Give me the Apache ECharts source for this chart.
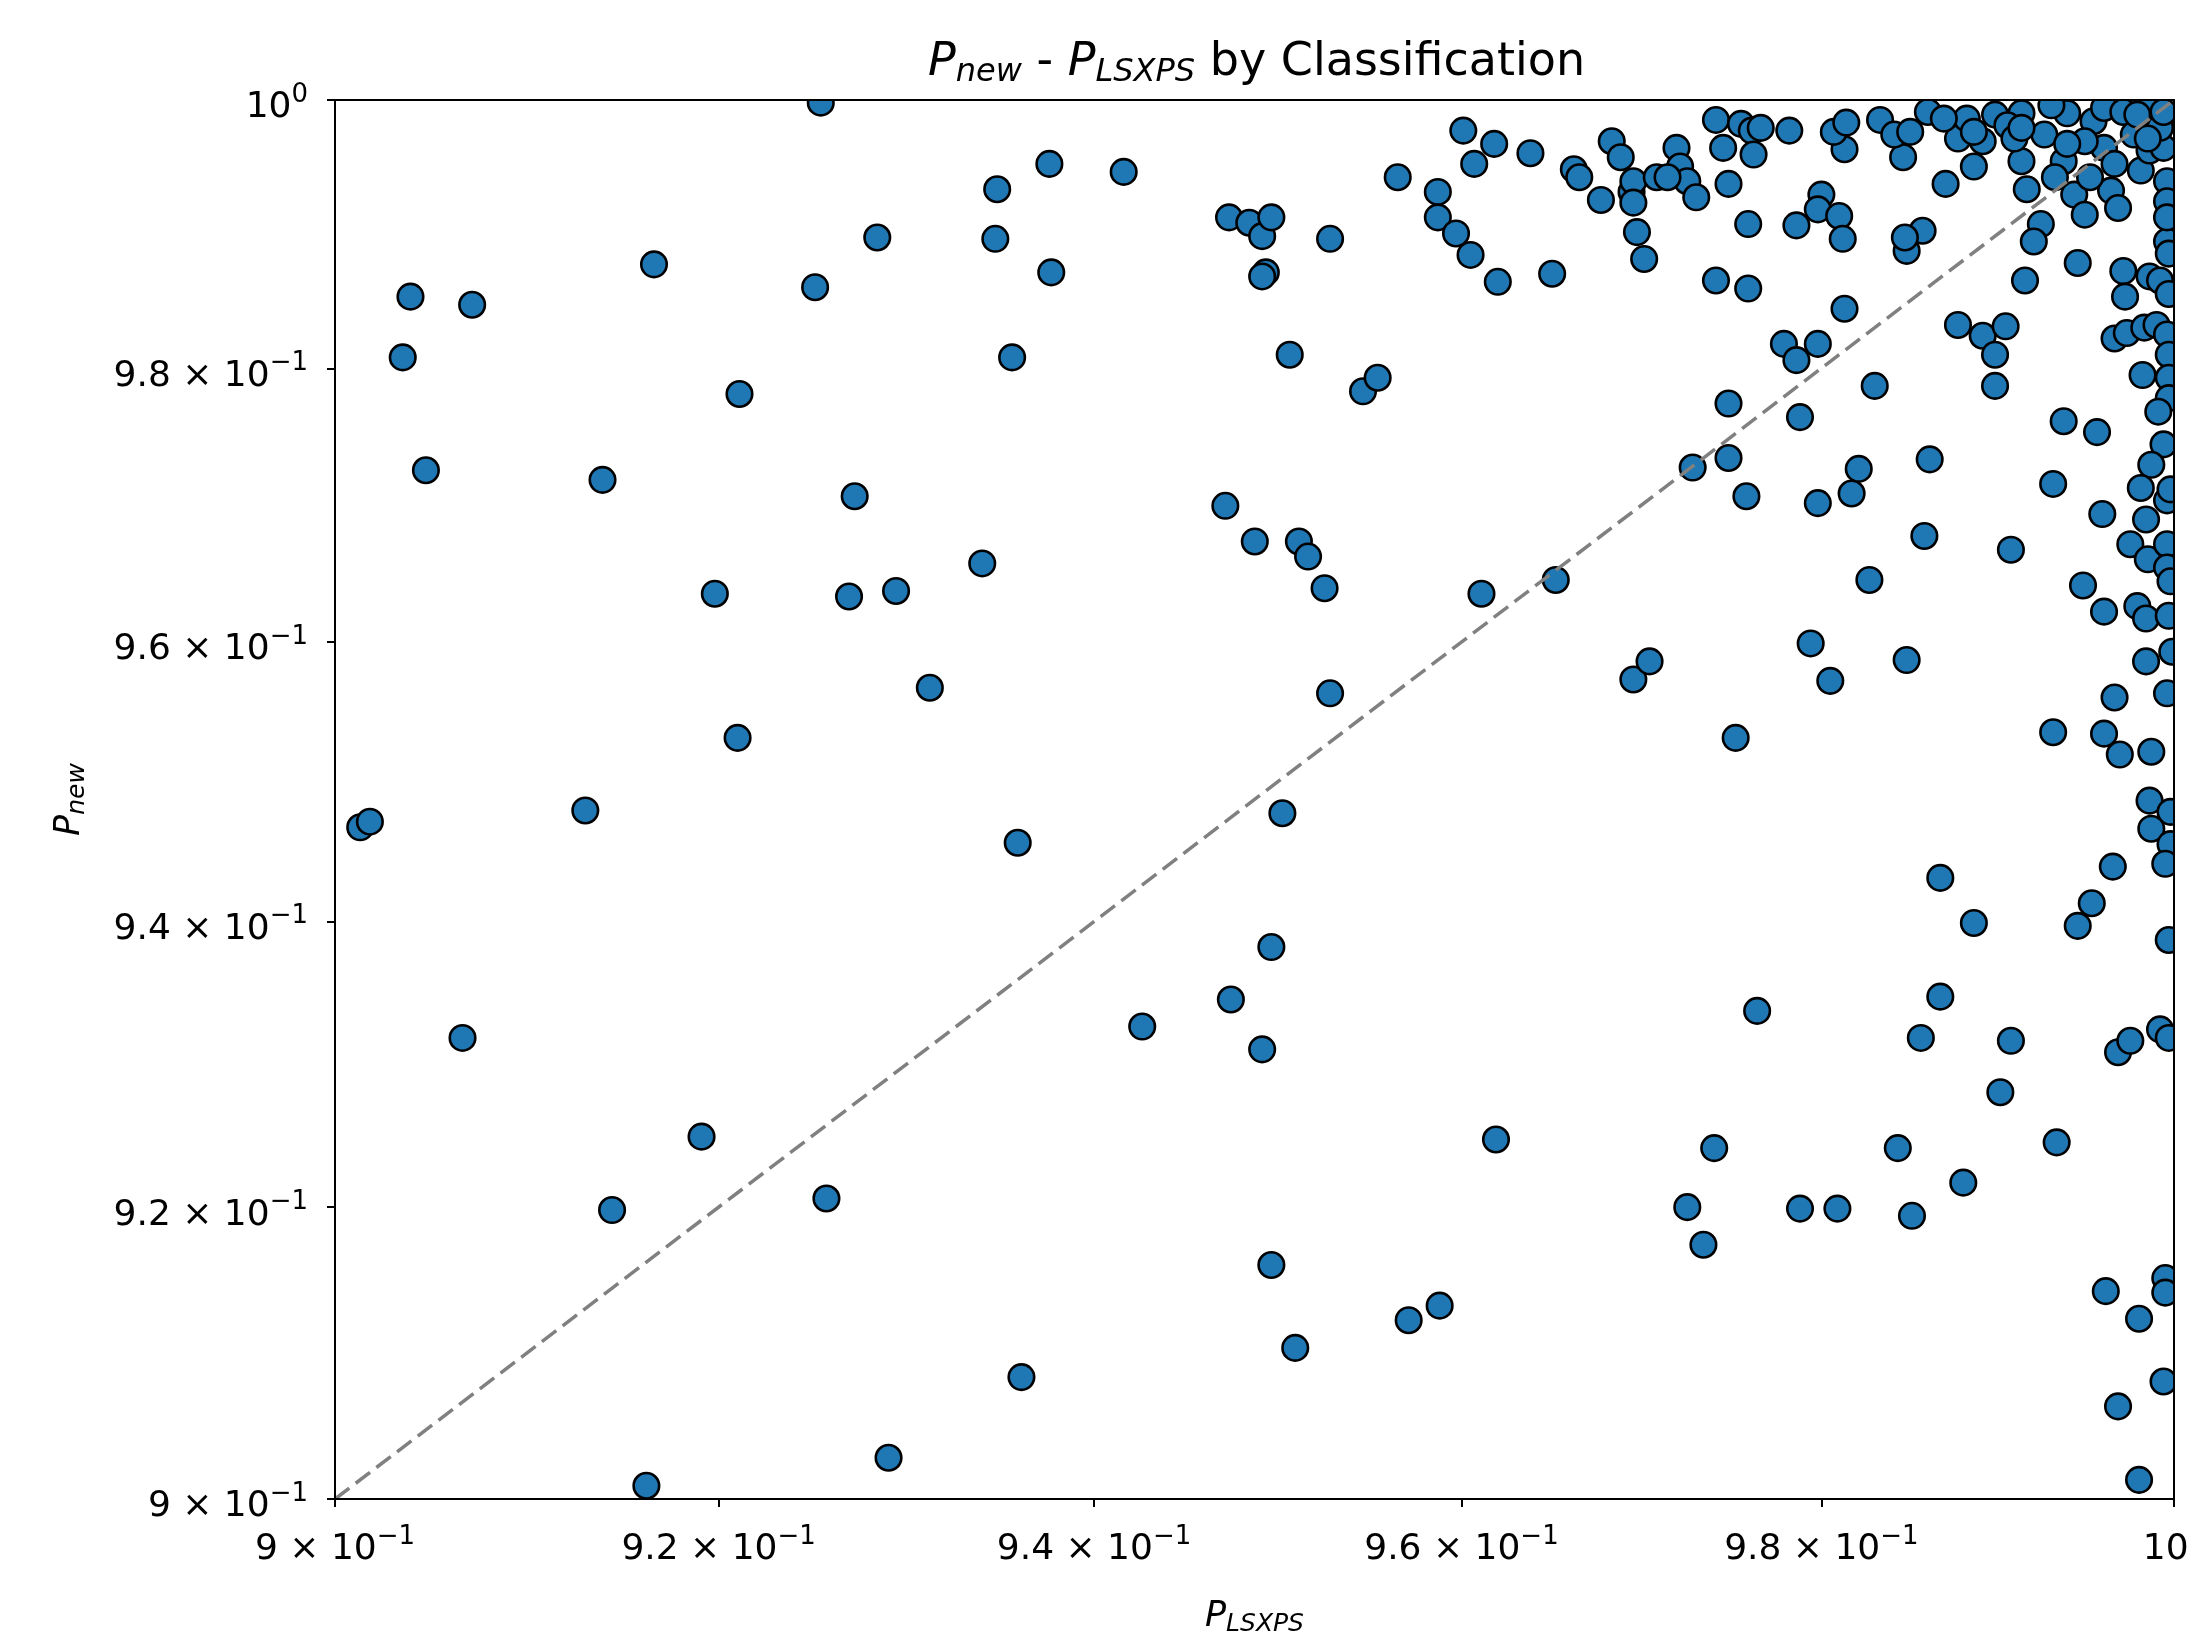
<!DOCTYPE html>
<html>
<head>
<meta charset="utf-8">
<title>P_new - P_LSXPS by Classification</title>
<script src="https://cdn.jsdelivr.net/npm/echarts@6/dist/echarts.min.js"></script>
<style>
  html, body { margin: 0; padding: 0; background: #fff; }
  #chart { width: 2188px; height: 1631px; }
</style>
</head>
<body>
<div id="chart"></div>
<script>
// P_LSXPS (x) and P_new (y), same order in both arrays
const pLsxps = [
  // spread-out points
  0.9254, 0.9039, 0.9071, 0.9035, 0.9047, 0.9139, 0.9166, 0.9211, 0.9251, 0.9284,
  0.9272, 0.9198, 0.9269, 0.9294, 0.9210, 0.9312, 0.9340, 0.9348, 0.9347, 0.9376,
  0.9377, 0.9356, 0.9416, 0.9013, 0.9018, 0.9130, 0.9359, 0.9066, 0.9191, 0.9144,
  0.9257, 0.9290, 0.9162, 0.9361, 0.9426, 0.9471, 0.9487, 0.9511, 0.9516, 0.9525,
  0.9528, 0.9506, 0.9473, 0.9484, 0.9491, 0.9496, 0.9493, 0.9491, 0.9528, 0.9546,
  0.9554, 0.9502, 0.9496, 0.9474, 0.9491, 0.9496, 0.9509, 0.9565, 0.9571, 0.9588,
  0.9587, 0.9587, 0.9597, 0.9601, 0.9607, 0.9618, 0.9605, 0.9620, 0.9638, 0.9650,
  0.9611, 0.9652, 0.9619, 0.9662, 0.9665, 0.9677, 0.9683, 0.9688, 0.9694, 0.9695,
  0.9697, 0.9701, 0.9708, 0.9695, 0.9695, 0.9704, 0.9725, 0.9734, 0.9740, 0.9764,
  0.9788, 0.9809,
  // upper right cluster
  0.9741, 0.9755, 0.9761, 0.9766, 0.9782, 0.9745, 0.9762, 0.9719, 0.9721, 0.9725,
  0.9730, 0.9748, 0.9759, 0.9786, 0.9800, 0.9798, 0.9810, 0.9812, 0.9741, 0.9759,
  0.9813, 0.9779, 0.9798, 0.9786, 0.9748, 0.9788, 0.9728, 0.9748, 0.9758, 0.9798,
  0.9817, 0.9821, 0.9830, 0.9858, 0.9827, 0.9861, 0.9907, 0.9931, 0.9948, 0.9937,
  0.9956, 0.9898, 0.9877, 0.9891, 0.9904, 0.9898, 0.9848, 0.9857, 0.9847, 0.9870,
  0.9886, 0.9846, 0.9813, 0.9807, 0.9814, 0.9833, 0.9841, 0.9850, 0.9860, 0.9877,
  0.9882, 0.9891, 0.9898, 0.9913, 0.9913, 0.9916, 0.9926, 0.9924, 0.9920, 0.9915,
  0.9945, 0.9937, 0.9943, 0.9949, 0.9939, 0.9954, 0.9960, 0.9971, 0.9985, 0.9960,
  0.9966, 0.9964, 0.9968, 0.9981, 0.9977, 0.9986, 0.9994, 0.9996, 0.9996, 0.9992,
  0.9971, 0.9972, 0.9986, 0.9992, 0.9997, 0.9996, 0.9997, 0.9966, 0.9973, 0.9983,
  0.9990, 0.9996, 0.9997, 0.9997, 0.9982, 0.9997, 0.9991, 0.9994, 0.9987, 0.9981,
  0.9996, 0.9959, 0.9984, 0.9975, 0.9985, 0.9996, 0.9996, 0.9930, 0.9905, 0.9886,
  0.9909, 0.9932, 0.9952, 0.9979, 0.9994, 0.9949, 0.9714, 0.9869, 0.9939, 0.9985,
  0.9913, 0.9996, 0.9998, 0.9998,
  // lower right, near the right edge
  0.9960, 0.9979, 0.9984, 0.9997, 0.9999, 0.9984, 0.9996, 0.9966, 0.9931, 0.9960,
  0.9969, 0.9987, 0.9986, 0.9998, 0.9987, 0.9998, 0.9995, 0.9965, 0.9953, 0.9945,
  0.9997, 0.9794, 0.9805, 0.9848, 0.9752, 0.9867, 0.9886, 0.9867, 0.9856, 0.9907,
  0.9968, 0.9975, 0.9992, 0.9997, 0.9901, 0.9843, 0.9851, 0.9880, 0.9933, 0.9961,
  0.9995, 0.9995, 0.9980, 0.9994, 0.9968, 0.9980
];
const pNew = [
  // spread-out points
  0.9998, 0.9853, 0.9847, 0.9808, 0.9725, 0.9718, 0.9877, 0.9781, 0.9860, 0.9897,
  0.9706, 0.9635, 0.9633, 0.9637, 0.9531, 0.9567, 0.9657, 0.9933, 0.9896, 0.9952,
  0.9871, 0.9808, 0.9946, 0.9467, 0.9471, 0.9479, 0.9456, 0.9318, 0.9249, 0.9198,
  0.9206, 0.9028, 0.9009, 0.9083, 0.9326, 0.9699, 0.9673, 0.9673, 0.9662, 0.9639,
  0.9563, 0.9810, 0.9912, 0.9908, 0.9898, 0.9912, 0.9871, 0.9868, 0.9896, 0.9783,
  0.9793, 0.9477, 0.9382, 0.9345, 0.9310, 0.9160, 0.9103, 0.9942, 0.9122, 0.9132,
  0.9931, 0.9912, 0.9900, 0.9977, 0.9952, 0.9967, 0.9884, 0.9864, 0.9960, 0.9870,
  0.9635, 0.9645, 0.9247, 0.9948, 0.9942, 0.9925, 0.9969, 0.9957, 0.9931, 0.9939,
  0.9901, 0.9881, 0.9942, 0.9923, 0.9573, 0.9586, 0.9200, 0.9174, 0.9241, 0.9337,
  0.9199, 0.9199,
  // upper right cluster
  0.9985, 0.9982, 0.9977, 0.9979, 0.9977, 0.9964, 0.9959, 0.9964, 0.9950, 0.9939,
  0.9927, 0.9937, 0.9907, 0.9906, 0.9929, 0.9918, 0.9913, 0.9896, 0.9865, 0.9859,
  0.9844, 0.9818, 0.9818, 0.9806, 0.9774, 0.9764, 0.9727, 0.9734, 0.9706, 0.9701,
  0.9708, 0.9726, 0.9787, 0.9677, 0.9645, 0.9733, 0.9667, 0.9715, 0.9641, 0.9761,
  0.9753, 0.9787, 0.9832, 0.9824, 0.9831, 0.9810, 0.9887, 0.9902, 0.9897, 0.9937,
  0.9950, 0.9957, 0.9963, 0.9976, 0.9983, 0.9985, 0.9974, 0.9976, 0.9991, 0.9971,
  0.9986, 0.9969, 0.9989, 0.9990, 0.9954, 0.9933, 0.9974, 0.9907, 0.9894, 0.9865,
  0.9878, 0.9954, 0.9929, 0.9914, 0.9990, 0.9984, 0.9994, 0.9991, 0.9994, 0.9964,
  0.9952, 0.9932, 0.9919, 0.9947, 0.9974, 0.9962, 0.9964, 0.9939, 0.9924, 0.9979,
  0.9872, 0.9853, 0.9868, 0.9865, 0.9855, 0.9894, 0.9885, 0.9822, 0.9826, 0.9830,
  0.9832, 0.9825, 0.9810, 0.9793, 0.9795, 0.9778, 0.9768, 0.9744, 0.9729, 0.9712,
  0.9703, 0.9693, 0.9689, 0.9671, 0.9660, 0.9671, 0.9654, 0.9996, 0.9981, 0.9976,
  0.9971, 0.9942, 0.9942, 0.9989, 0.9991, 0.9969, 0.9942, 0.9986, 0.9967, 0.9971,
  0.9979, 0.9912, 0.9711, 0.9644,
  // lower right, near the right edge
  0.9622, 0.9626, 0.9617, 0.9619, 0.9593, 0.9586, 0.9563, 0.9560, 0.9535, 0.9534,
  0.9519, 0.9521, 0.9486, 0.9478, 0.9466, 0.9455, 0.9441, 0.9439, 0.9413, 0.9397,
  0.9387, 0.9599, 0.9572, 0.9587, 0.9531, 0.9431, 0.9399, 0.9347, 0.9318, 0.9316,
  0.9308, 0.9316, 0.9324, 0.9318, 0.9280, 0.9241, 0.9194, 0.9217, 0.9245, 0.9142,
  0.9151, 0.9141, 0.9123, 0.9080, 0.9063, 0.9013
];
const tickValues = [0.9, 0.92, 0.94, 0.96, 0.98, 1.0];
const axisMin = 0.9;
const axisMax = 1.0;
const diagonal = [[0.9, 0.9], [1.0, 1.0]];

const FONT = 'DejaVu Sans';
const chart = echarts.init(document.getElementById('chart'));

// 9.2 x 10^-1 style labels, like matplotlib's log formatter
function tickLabel(v) {
  if (Math.abs(v - 1) < 1e-9) return '{m|10}{e|0}';
  const mant = Math.round(v * 100) / 10;
  const txt = Math.abs(mant - Math.round(mant)) < 1e-9 ? mant.toFixed(0) : mant.toFixed(1);
  return '{m|' + txt + ' \u00d7 10}{e|\u22121}';
}

const supRich = {
  m: { fontFamily: FONT, fontSize: 36, color: '#000', lineHeight: 44, verticalAlign: 'bottom' },
  e: { fontFamily: FONT, fontSize: 26, color: '#000', verticalAlign: 'top' }
};

function subRich(size) {
  return {
    i: { fontFamily: FONT, fontSize: size, fontStyle: 'italic', fontWeight: 'normal', color: '#000', verticalAlign: 'top' },
    s: { fontFamily: FONT, fontSize: Math.round(size * 0.7), fontStyle: 'italic', fontWeight: 'normal', color: '#000',
         verticalAlign: 'top', padding: [Math.round(size * 0.37), 0, 0, 0] },
    n: { fontFamily: FONT, fontSize: size, fontWeight: 'normal', color: '#000', verticalAlign: 'top' }
  };
}

const spine = { show: true, onZero: false, lineStyle: { color: '#000', width: 2 } };

function logAxis(extra) {
  return Object.assign({
    type: 'log',
    logBase: 10,
    min: axisMin,
    max: axisMax,
    z: 10,
    axisLine: spine,
    splitLine: { show: false },
    minorTick: { show: false },
    minorSplitLine: { show: false }
  }, extra);
}

const option = {
  animation: false,
  backgroundColor: '#fff',
  title: {
    text: '{i|P}{s|new}{n| - }{i|P}{s|LSXPS}{n| by Classification}',
    left: 928,
    top: 40,
    padding: 0,
    z: 10,
    textStyle: { fontWeight: 'normal', rich: subRich(46) }
  },
  grid: {
    left: 335, right: 14, top: 100, bottom: 132,
    containLabel: false,
    outerBoundsMode: 'none'
  },
  xAxis: [
    logAxis({
      position: 'bottom',
      axisTick: { show: true, length: 8, lineStyle: { color: '#000', width: 2 }, customValues: tickValues },
      axisLabel: { customValues: tickValues, formatter: tickLabel, margin: 25, rich: supRich, hideOverlap: false },
      name: '{i|P}{s|LSXPS}',
      nameLocation: 'middle',
      nameGap: 100,
      nameTextStyle: { rich: subRich(35) }
    }),
    logAxis({ position: 'top', axisTick: { show: false }, axisLabel: { show: false } })
  ],
  yAxis: [
    logAxis({
      position: 'left',
      axisTick: { show: true, length: 8, lineStyle: { color: '#000', width: 2 }, customValues: tickValues },
      axisLabel: { customValues: tickValues, formatter: tickLabel, margin: 27, rich: supRich,
                   hideOverlap: false, padding: [8, 0, 0, 0] },
      name: '{i|P}{s|new}',
      nameLocation: 'middle',
      nameGap: 245,
      nameTextStyle: { rich: subRich(35) }
    }),
    logAxis({ position: 'right', axisTick: { show: false }, axisLabel: { show: false } })
  ],
  // white margins so markers are cut at the frame, as in the original
  graphic: [
    { type: 'rect', z: 5, silent: true, shape: { x: 0, y: 0, width: 2188, height: 99 }, style: { fill: '#fff' } },
    { type: 'rect', z: 5, silent: true, shape: { x: 0, y: 1500, width: 2188, height: 131 }, style: { fill: '#fff' } },
    { type: 'rect', z: 5, silent: true, shape: { x: 0, y: 0, width: 334, height: 1631 }, style: { fill: '#fff' } },
    { type: 'rect', z: 5, silent: true, shape: { x: 2175, y: 0, width: 13, height: 1631 }, style: { fill: '#fff' } }
  ],
  series: [
    {
      type: 'scatter',
      xAxisIndex: 0,
      yAxisIndex: 0,
      z: 2,
      data: pLsxps.map((x, i) => [x, pNew[i]]),
      symbol: 'circle',
      symbolSize: 25.5,
      itemStyle: { color: '#1f77b4', borderColor: '#000', borderWidth: 2.6, opacity: 1 },
      emphasis: { disabled: true }
    },
    {
      type: 'line',
      xAxisIndex: 0,
      yAxisIndex: 0,
      z: 3,
      data: diagonal,
      symbol: 'none',
      silent: true,
      lineStyle: { color: '#808080', width: 3.5, type: [18, 8] }
    }
  ]
};

chart.setOption(option);
</script>
</body>
</html>
